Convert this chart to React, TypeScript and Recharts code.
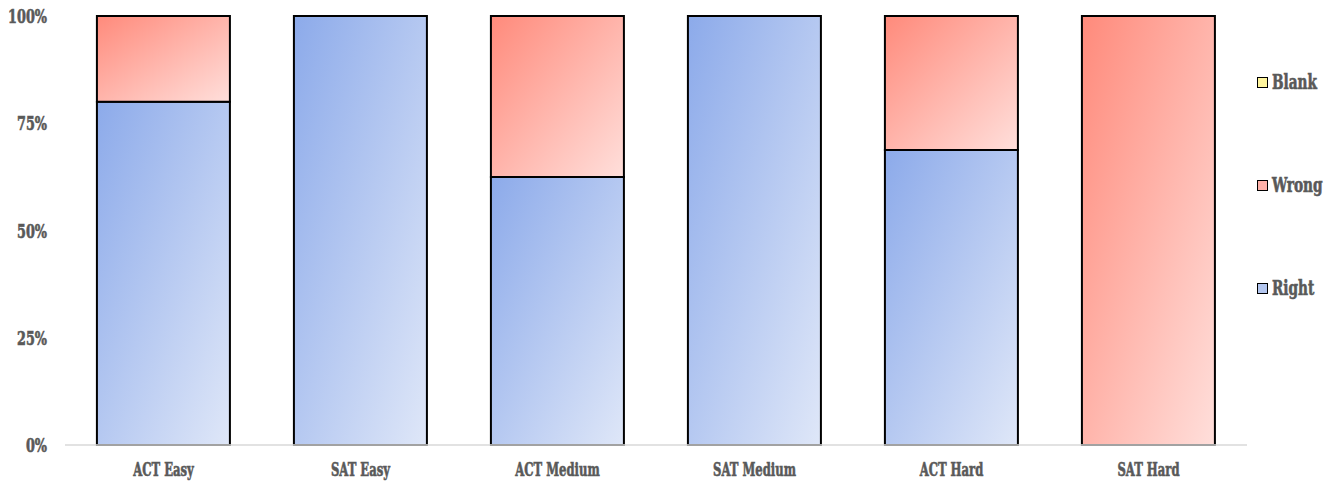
import React from 'react';
import { BarChart, Bar, XAxis, YAxis } from 'recharts';

const categories = ['ACT Easy', 'SAT Easy', 'ACT Medium', 'SAT Medium', 'ACT Hard', 'SAT Hard'];
const rightValues = [80, 100, 62.5, 100, 68.75, 0];
const wrongValues = [20, 0, 37.5, 0, 31.25, 100];
const blankValues = [0, 0, 0, 0, 0, 0];
const yTicks = [0, 25, 50, 75, 100];
const legendItems = ['Blank', 'Wrong', 'Right'];

const data = categories.map((c, i) => ({
  name: c,
  Right: rightValues[i],
  Wrong: wrongValues[i],
  Blank: blankValues[i],
}));

const FONT = "'DejaVu Serif Condensed', 'DejaVu Serif', serif";
const TEXT = '#595959';

const legendColors: Record<string, string> = {
  Blank: '#fff59d',
  Wrong: '#ffb1a9',
  Right: '#b3c6ef',
};

const XTick = (props: any) => {
  const { x, y, payload } = props;
  return (
    <g transform={`translate(${x},${y})`}>
      <text
        x={0}
        y={31}
        textAnchor="middle"
        fill={TEXT}
        stroke={TEXT}
        strokeWidth={0.6}
        fontFamily={FONT}
        fontWeight="bold"
        fontSize={19}
        transform="scale(0.68,1)"
      >
        {payload.value}
      </text>
    </g>
  );
};

const YTick = (props: any) => {
  const { x, y, payload } = props;
  return (
    <g transform={`translate(${x},${y})`}>
      <text
        x={0}
        y={7}
        textAnchor="end"
        fill={TEXT}
        stroke={TEXT}
        strokeWidth={0.6}
        fontFamily={FONT}
        fontWeight="bold"
        fontSize={19}
        transform="scale(0.75,1)"
      >
        {`${payload.value}%`}
      </text>
    </g>
  );
};

export default function App() {
  return (
    <div style={{ position: 'absolute', left: 0, top: 0, width: 1338, height: 482, background: '#fff' }}>
      <BarChart
        width={1338}
        height={482}
        data={data}
        margin={{ top: 16, right: 91, bottom: 0, left: 0 }}
        barCategoryGap="16.2%"
      >
        <defs>
          <linearGradient id="gradRight" x1="0" y1="0" x2="1" y2="1">
            <stop offset="0%" stopColor="#8caaea" />
            <stop offset="100%" stopColor="#dfe7f8" />
          </linearGradient>
          <linearGradient id="gradWrong" x1="0" y1="0" x2="1" y2="1">
            <stop offset="0%" stopColor="#ff8a7b" />
            <stop offset="100%" stopColor="#ffdfdb" />
          </linearGradient>
          <linearGradient id="gradBlank" x1="0" y1="0" x2="1" y2="1">
            <stop offset="0%" stopColor="#fff176" />
            <stop offset="100%" stopColor="#fffbd9" />
          </linearGradient>
        </defs>
        <XAxis
          dataKey="name"
          height={37}
          axisLine={{ stroke: '#d9d9d9', strokeWidth: 1.5 }}
          tickLine={false}
          tickSize={0}
          tickMargin={0}
          tick={<XTick />}
        />
        <YAxis
          width={65}
          domain={[0, 100]}
          ticks={yTicks}
          axisLine={false}
          tickLine={false}
          tickSize={0}
          tickMargin={18}
          tick={<YTick />}
        />
        <Bar dataKey="Right" stackId="a" fill="url(#gradRight)" stroke="#000" strokeWidth={2} isAnimationActive={false} />
        <Bar dataKey="Wrong" stackId="a" fill="url(#gradWrong)" stroke="#000" strokeWidth={2} isAnimationActive={false} />
        <Bar dataKey="Blank" stackId="a" fill="url(#gradBlank)" stroke="#000" strokeWidth={2} isAnimationActive={false} />
      </BarChart>
      {legendItems.map((k, i) => (
        <div
          key={k}
          style={{
            position: 'absolute',
            left: 1257,
            top: 70 + i * 103,
            display: 'flex',
            alignItems: 'center',
            height: 24,
          }}
        >
          <span
            style={{
              display: 'inline-block',
              width: 9,
              height: 9,
              border: '1.5px solid #000',
              background: legendColors[k],
              marginRight: 4,
            }}
          />
          <span
            style={{
              fontFamily: FONT,
              fontWeight: 'bold',
              fontSize: 20,
              lineHeight: '24px',
              color: TEXT,
              WebkitTextStroke: `0.6px ${TEXT}`,
              display: 'inline-block',
              transform: 'scale(0.76,1)',
              transformOrigin: 'left center',
              whiteSpace: 'nowrap',
            }}
          >
            {k}
          </span>
        </div>
      ))}
    </div>
  );
}
